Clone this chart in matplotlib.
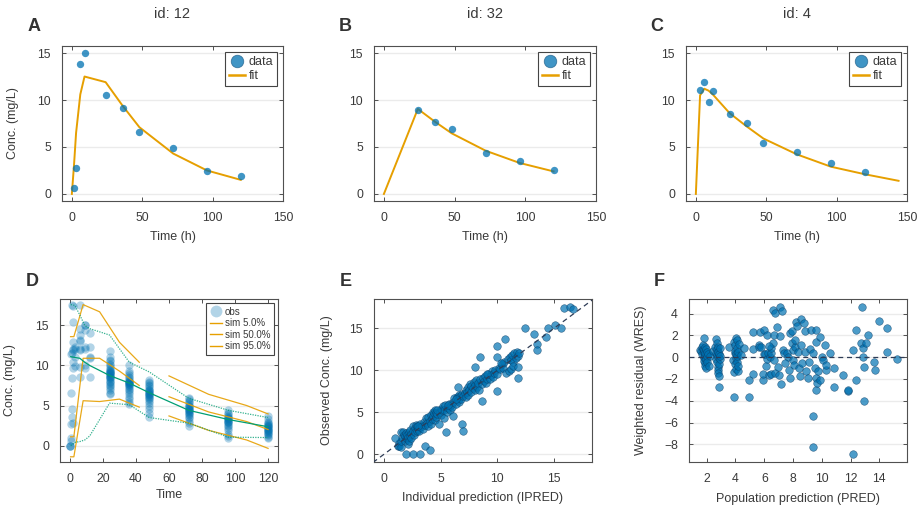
import numpy as np
import matplotlib.pyplot as plt
from matplotlib.lines import Line2D

plt.rcParams['font.family'] = ['Liberation Sans', 'DejaVu Sans']

BLUE = '#0072B2'
ORANGE = '#E69F00'
GREEN = '#009E73'
TXT = '#3a3a3a'
FRAME = '#505050'

# ---- A, B, C : individual fits
obs_t_12 = [1.5, 3, 6, 9, 24, 36, 48, 72, 96, 120]
obs_c_12 = [0.6, 2.8, 13.8, 15.0, 10.5, 9.1, 6.6, 4.9, 2.4, 1.9]
fit_t_12 = [0, 1.5, 3, 6, 9, 24, 36, 48, 72, 96, 120]
fit_c_12 = [0, 3.0, 6.5, 10.6, 12.5, 11.9, 9.4, 7.1, 4.3, 2.5, 1.5]

obs_t_32 = [24, 36, 48, 72, 96, 120]
obs_c_32 = [8.9, 7.7, 6.9, 4.4, 3.5, 2.5]
fit_t_32 = [0, 24, 36, 48, 72, 96, 120]
fit_c_32 = [0, 9.05, 7.7, 6.45, 4.6, 3.3, 2.4]

obs_t_4 = [3, 6, 9, 12, 24, 36, 48, 72, 96, 120]
obs_c_4 = [11.1, 11.9, 9.8, 11.0, 8.5, 7.6, 5.4, 4.5, 3.3, 2.3]
fit_t_4 = [0, 3, 6, 9, 12, 24, 36, 48, 72, 96, 120, 144]
fit_c_4 = [0, 10.5, 11.2, 11.0, 10.6, 8.6, 7.2, 5.9, 4.2, 2.9, 2.1, 1.4]

# ---- D : VPC
vpc_times = [0, 0.5, 1, 2, 3, 6, 9, 12, 24, 36, 48, 72, 96, 120]
vpc_obs = [
    [0.0, 0.0, 0.0],
    [0.6, 1.0, 2.7, 6.6, 11.4],
    [3.6, 4.6, 8.4, 11.6, 17.6],
    [2.8, 9.7, 10.4, 11.9, 12.0, 12.9, 15.4, 17.4],
    [9.9, 11.1, 12.1, 12.3],
    [8.6, 9.8, 11.9, 12.1, 13.0, 13.2, 13.8, 14.6, 17.6],
    [9.7, 10.0, 12.1, 12.3, 14.4, 15.0, 15.0],
    [8.6, 10.9, 11.1, 12.3, 14.1],
    [6.4, 6.6, 6.9, 7.2, 7.4, 7.6, 7.8, 8.0, 8.1, 8.3, 8.4, 8.5, 8.6, 8.7, 8.8,
     8.9, 9.0, 9.1, 9.2, 9.2, 9.3, 9.4, 9.6, 9.8, 10.0, 10.2, 10.5, 10.7, 11.0, 11.8],
    [5.2, 5.5, 5.8, 6.1, 6.4, 6.7, 6.9, 7.1, 7.3, 7.5, 7.6, 7.7, 7.7, 7.8, 7.9,
     7.9, 8.0, 8.1, 8.2, 8.4, 8.6, 8.8, 9.0, 9.3, 10.0],
    [3.6, 4.1, 4.6, 5.0, 5.3, 5.6, 5.8, 6.0, 6.1, 6.2, 6.3, 6.4, 6.5, 6.6, 6.7,
     6.8, 6.9, 7.0, 7.2, 7.4, 7.6, 7.8, 8.0, 8.2],
    [2.5, 2.8, 3.1, 3.4, 3.6, 3.8, 4.0, 4.1, 4.2, 4.3, 4.4, 4.5, 4.6, 4.7, 4.8,
     4.9, 5.0, 5.2, 5.4, 5.6, 5.8, 6.0],
    [0.9, 1.2, 1.5, 1.9, 2.2, 2.4, 2.6, 2.8, 2.9, 3.0, 3.1, 3.2, 3.3, 3.4, 3.5,
     3.6, 3.7, 3.9, 4.1, 4.4],
    [0.9, 1.1, 1.3, 1.4, 1.6, 1.7, 1.8, 1.9, 2.0, 2.1, 2.2, 2.3, 2.4, 2.5, 2.6,
     2.7, 2.8, 3.0, 3.3, 3.7],
]
sim_t1 = [0.4, 2.4, 8, 18, 30, 42]
sim5_1 = [-1.4, -1.4, 5.6, 5.5, 5.8, 4.8]
sim50_1 = [1.1, 1.1, 10.9, 10.9, 9.3, 7.5]
sim95_1 = [13.6, 13.6, 17.6, 16.7, 12.9, 10.4]
sim_t2 = [60, 84, 107, 120]
sim5_2 = [3.7, 1.9, 0.7, -0.35]
sim50_2 = [6.1, 4.2, 3.0, 2.0]
sim95_2 = [8.7, 6.4, 5.0, 3.95]
q_t = [0.5, 3, 6, 9, 12, 24, 36, 48, 72, 96, 120]
obs_q5 = [0.0, 0.4, 0.5, 0.7, 1.2, 5.3, 5.1, 3.5, 2.8, 1.05, 1.0]
obs_q50 = [11.1, 11.0, 10.9, 10.4, 10.0, 8.75, 7.8, 6.6, 4.4, 3.25, 2.35]
obs_q95 = [17.6, 17.5, 16.3, 15.0, 14.6, 13.8, 10.4, 9.2, 5.9, 4.4, 3.5]

# ---- E : observed vs IPRED
E_ipred = [
    1.2, 1.3, 1.33, 1.45, 1.5, 1.5, 1.6, 1.68, 1.7, 1.8, 1.8, 1.9, 1.97, 2.0, 2.0, 2.1, 2.1, 2.2, 2.2,
    2.3, 2.3, 2.4, 2.4, 2.5, 2.5, 2.6, 2.7, 2.7, 2.8, 2.9, 2.9, 3.0, 3.1, 3.2, 3.2, 3.3, 3.4,
    3.5, 3.6, 3.7, 3.8, 3.9, 3.9, 4.0, 4.1, 4.1, 4.2, 4.3, 4.3, 4.4, 4.5, 4.5, 4.6, 4.6, 4.7,
    4.8, 4.9, 5.0, 5.0, 5.1, 5.2, 5.3, 5.3, 5.4, 5.5, 5.6, 5.7, 5.8, 5.9, 6.0, 6.1, 6.2, 6.3,
    6.4, 6.5, 6.6, 6.6, 6.7, 6.8, 6.9, 7.0, 7.1, 7.2, 7.2, 7.3, 7.4, 7.4, 7.5, 7.6, 7.7, 7.7,
    7.8, 7.9, 8.0, 8.0, 8.1, 8.2, 8.3, 8.4, 8.5, 8.6, 8.7, 8.8, 8.9, 9.0, 9.1, 9.2, 9.3, 9.4,
    9.5, 9.6, 9.7, 9.8, 10.0, 10.1, 10.2, 10.4, 10.5, 10.6, 10.8, 10.9, 11.0, 11.1, 11.2, 11.2,
    11.3, 11.4, 11.4, 11.5, 11.6, 11.7, 11.8, 11.9, 10.3, 9.1, 6.3, 5.6, 4.7, 3.0,
    0.95, 1.92, 2.5, 3.15, 3.56, 4.04, 5.45, 6.84, 6.99, 6.1, 8.6, 8.46, 7.98, 10.0, 9.94,
    10.67, 10.0, 11.8, 11.85, 12.47, 13.26, 13.47, 13.47, 14.3, 14.5, 15.1, 15.6, 15.9,
    16.4, 16.65, 6.55,
]
E_obs = [
    1.0, 1.3, 1.0, 0.8, 1.6, 2.6, 1.9, 2.6, 2.3, 1.5, 2.1, 2.5, 1.86, 1.8, 2.3, 1.2, 2.0, 2.6, 1.6,
    2.2, 2.9, 2.4, 1.9, 3.4, 2.7, 2.3, 3.1, 2.6, 3.5, 2.8, 3.3, 3.0, 2.7, 3.6, 3.2, 3.4, 3.0,
    3.8, 3.5, 4.3, 3.7, 4.4, 3.4, 4.0, 4.7, 3.6, 4.2, 5.0, 4.5, 4.9, 4.1, 5.3, 4.4, 4.9, 4.8,
    3.6, 5.0, 5.4, 4.6, 5.2, 5.7, 4.3, 5.3, 5.8, 5.0, 5.5, 6.0, 5.3, 5.9, 5.6, 6.2, 6.7, 6.0,
    6.8, 6.5, 7.0, 6.2, 6.9, 6.6, 7.2, 6.9, 7.3, 7.7, 6.8, 7.4, 8.0, 7.1, 7.6, 8.3, 7.4, 8.1,
    7.9, 8.6, 7.6, 8.2, 8.8, 8.0, 8.5, 7.6, 8.9, 8.3, 9.1, 8.7, 9.3, 8.5, 9.0, 9.6, 8.9, 9.4,
    9.9, 9.2, 9.7, 10.0, 9.6, 10.3, 10.1, 10.8, 10.3, 11.0, 9.7, 11.3, 9.9, 11.6, 11.2, 10.2,
    11.8, 11.0, 10.5, 12.0, 11.5, 12.2, 11.7, 12.1, 10.9, 9.5, 6.6, 5.9, 5.2, 3.4,
    1.95, 0.0, 0.0, 0.0, 0.95, 0.5, 2.66, 3.54, 2.75, 4.58, 6.3, 11.6, 10.35, 7.52, 12.9,
    13.73, 11.54, 9.1, 10.43, 15.0, 14.33, 13.13, 12.4, 13.93, 15.0, 15.4, 15.0, 17.47,
    17.6, 17.27, 8.0,
]

# ---- F : WRES vs PRED
F_pred = [
    1.50, 1.62, 1.65, 1.70, 1.72, 1.75, 1.78, 1.80, 1.80, 1.82, 1.83, 1.84, 1.85, 1.86, 1.88,
    1.88, 1.90, 1.92, 1.95, 1.96, 2.00, 2.02, 2.05, 2.10, 2.15, 2.20,
    2.45, 2.55, 2.62, 2.65, 2.68, 2.70, 2.72, 2.74, 2.75, 2.76, 2.78, 2.78, 2.80, 2.80, 2.82,
    2.83, 2.85, 2.86, 2.88, 2.90, 2.92, 2.95,
    3.55, 3.85, 3.88, 3.90, 3.92, 3.95, 3.97, 3.98, 4.00, 4.02, 4.04, 4.05, 4.07, 4.08, 4.10,
    4.12, 4.14, 4.15, 4.18, 4.20, 4.25, 4.35, 4.62,
    4.92, 4.92, 5.24, 5.20, 5.20, 5.60, 5.60, 5.68, 5.96, 5.90, 5.90, 6.00, 6.08, 6.13, 6.17,
    6.24, 6.17, 6.30, 6.47, 6.40, 6.50, 6.50, 6.58, 6.75, 6.66, 6.60, 6.66, 6.77, 6.96, 6.92,
    7.10, 7.10, 7.20, 7.05, 7.15, 7.28, 7.37, 7.56, 7.67, 7.80, 7.80, 7.74, 7.90, 7.98, 8.00,
    8.06, 7.92, 8.13, 8.19, 8.25, 8.37, 8.44, 8.53, 8.55, 8.47, 8.60, 8.76, 8.80, 8.83, 8.90,
    9.07, 9.10, 9.18, 9.25, 9.37, 9.37, 9.37, 9.53, 9.60, 9.60, 9.58, 9.60, 9.65, 9.72, 9.84,
    9.90, 10.00, 10.06, 10.22, 10.27, 10.30, 10.56, 10.84, 10.84, 11.50, 11.80, 11.80, 12.20,
    12.20, 12.40, 12.40, 12.70, 12.77, 12.88, 12.88, 12.90, 12.90, 13.10, 13.23, 13.65, 13.70,
    13.95, 14.50, 14.50, 15.25, 6.35, 7.45, 8.15, 5.75,
]
F_wres = [
    0.70, 0.55, 0.95, 0.30, 0.80, 1.15, -0.10, 1.80, 0.45, 0.05, -0.35, 0.65, -0.55, 0.20, 0.95,
    -0.80, 0.35, -0.20, 0.75, -0.95, 0.15, 0.50, -0.40, 0.30, -0.85, 0.10,
    0.60, 0.90, 0.40, 1.65, -0.15, 1.30, 0.75, 0.20, -0.40, 0.95, -0.90, 0.05, -1.15, 0.50, -1.45,
    -1.75, 0.30, -0.60, -2.75, 0.85, -0.20, 0.10,
    0.92, -0.25, -1.35, -3.65, 1.40, 0.35, 1.10, -0.65, 0.60, -0.05, 1.75, 0.25, -1.05, 1.55, 0.85,
    -0.40, 0.10, -1.30, 0.45, -0.85, 1.25, 0.20, 0.82,
    -2.08, -3.67, 2.35, -1.53, 0.73, 1.13, 0.92, 2.35, 2.50, -2.14, -1.53, 0.27, 0.27, -0.80, -0.18,
    0.43, 2.05, -1.62, -1.53, 0.06, 0.37, 0.82, 4.34, 4.09, 2.05, 1.28, -0.24, -1.47, -0.86, 2.75,
    1.95, 4.64, 4.28, -1.62, -2.44, 0.67, 0.43, 0.37, 0.06, 2.20, -1.92, -1.16, 1.28, 0.67, -0.24,
    -0.70, 2.44, 0.92, 3.27, 2.90, 0.52, -1.00, 3.48, 1.13, -1.77, -0.55, 3.18, 2.44, 0.52, -1.31,
    -1.92, -0.40, 0.76, 2.50, 0.43, -5.44, -8.28, -1.00, 2.50, 1.43, -1.92, -3.00, -2.38, -1.31, -2.08,
    1.83, 0.06, -0.24, 1.13, -1.16, -0.70, 0.37, -1.00, -2.75, -1.62, -3.14, -3.00, 0.67,
    -8.89, 2.50, -2.08, 1.28, 4.64, 0.82, 0.00, -0.86, -4.06, 1.28, 2.05, -0.40, -1.22,
    3.36, 2.66, 0.46, -0.18, 1.05, -0.55, 1.60, 0.95,
]


def style(ax, xlim, ylim, xticks, yticks):
    ax.set_xlim(*xlim)
    ax.set_ylim(*ylim)
    ax.set_xticks(xticks)
    ax.set_yticks(yticks)
    for sp in ax.spines.values():
        sp.set_color(FRAME)
        sp.set_linewidth(0.8)
    ax.grid(axis='y', color='#ebebeb', linewidth=1.0)
    ax.set_axisbelow(True)
    ax.tick_params(direction='in', length=3, width=0.7, top=True, right=True,
                   colors=FRAME, labelcolor=TXT, labelsize=8.8, pad=8)


def legend_box(ax, handles, labels, fs):
    leg = ax.legend(handles, labels, loc='upper right', fontsize=fs, frameon=True,
                    fancybox=False, framealpha=1, borderaxespad=0.45,
                    handlelength=1.3, handletextpad=0.25, labelspacing=0.15,
                    borderpad=0.35)
    leg.get_frame().set_edgecolor('#444444')
    leg.get_frame().set_linewidth(0.8)
    for t in leg.get_texts():
        t.set_color(TXT)
    return leg


W, H = 920, 513
fig = plt.figure(figsize=(9.2, 5.13), dpi=100)


def add_ax(left, top, right, bottom):
    return fig.add_axes([left / W, 1 - bottom / H, (right - left) / W, (bottom - top) / H])


axA = add_ax(62, 46, 283, 201)
axB = add_ax(374, 46, 596, 201)
axC = add_ax(686, 46, 907, 201)
axD = add_ax(60, 299, 278, 462)
axE = add_ax(374, 299, 592, 462)
axF = add_ax(689, 299, 907, 462)

top_sets = [(axA, obs_t_12, obs_c_12, fit_t_12, fit_c_12, 'id: 12'),
            (axB, obs_t_32, obs_c_32, fit_t_32, fit_c_32, 'id: 32'),
            (axC, obs_t_4, obs_c_4, fit_t_4, fit_c_4, 'id: 4')]
for ax, ot, oc, ft, fc, title in top_sets:
    style(ax, (-7, 150), (-0.75, 15.75), [0, 50, 100, 150], [0, 5, 10, 15])
    ax.scatter(ot, oc, s=28, color=BLUE, alpha=0.75, linewidths=0, zorder=3)
    ax.plot(ft, fc, color=ORANGE, linewidth=1.4, zorder=2)
    ax.set_xlabel('Time (h)', fontsize=9, color=TXT)
    ax.xaxis.set_label_coords(0.5, -0.232)
    ax.xaxis.label.set_verticalalignment('center')
    pos = ax.get_position()
    fig.text(pos.x0 + pos.width / 2, 1 - 14 / H, title, ha='center', va='center',
             fontsize=10.5, color=TXT)
    h = [Line2D([], [], ls='', marker='o', ms=9, mfc=BLUE, mec='#1f5f8a', mew=0.6, alpha=0.75),
         Line2D([], [], color=ORANGE, lw=1.8)]
    legend_box(ax, h, ['data', 'fit'], 9)

axA.set_ylabel('Conc. (mg/L)', fontsize=9, color=TXT)
axA.yaxis.set_label_coords(-0.195, 0.5)

# D
style(axD, (-6, 126), (-2.05, 18.3), [0, 20, 40, 60, 80, 100, 120], [0, 5, 10, 15])
for t, vals in zip(vpc_times, vpc_obs):
    axD.scatter([t] * len(vals), vals, s=36, color=BLUE, alpha=0.3, linewidths=0, zorder=2)
for tt, ys in [(sim_t1, sim5_1), (sim_t1, sim50_1), (sim_t1, sim95_1),
               (sim_t2, sim5_2), (sim_t2, sim50_2), (sim_t2, sim95_2)]:
    axD.plot(tt, ys, color=ORANGE, linewidth=0.9, alpha=0.9, zorder=3)
axD.plot(q_t, obs_q50, color=GREEN, linewidth=0.9, zorder=3)
axD.plot(q_t, obs_q5, color=GREEN, linewidth=0.9, linestyle=(0, (1, 1)), alpha=0.8, zorder=3)
axD.plot(q_t, obs_q95, color=GREEN, linewidth=0.9, linestyle=(0, (1, 1)), alpha=0.8, zorder=3)
axD.set_xlabel('Time', fontsize=9, color=TXT)
axD.xaxis.set_label_coords(0.5, -0.202)
axD.xaxis.label.set_verticalalignment('center')
axD.set_ylabel('Conc. (mg/L)', fontsize=9, color=TXT)
axD.yaxis.set_label_coords(-0.202, 0.5)
hD = [Line2D([], [], ls='', marker='o', ms=8.5, mfc=BLUE, mec='none', alpha=0.3),
      Line2D([], [], color=ORANGE, lw=1),
      Line2D([], [], color=ORANGE, lw=1),
      Line2D([], [], color=ORANGE, lw=1)]
legend_box(axD, hD, ['obs', 'sim 5.0%', 'sim 50.0%', 'sim 95.0%'], 7)

# E
style(axE, (-0.91, 18.36), (-0.95, 18.5), [0, 5, 10, 15], [0, 5, 10, 15])
axE.scatter(E_ipred, E_obs, s=30, color=BLUE, alpha=0.7, edgecolors='#0b3d66',
            linewidths=0.4, zorder=2)
axE.plot([-1, 19], [-1, 19], color='#2e3c56', linewidth=0.9, linestyle=(0, (4, 3)), zorder=3)
axE.set_xlabel('Individual prediction (IPRED)', fontsize=9, color=TXT)
axE.xaxis.set_label_coords(0.5, -0.22)
axE.xaxis.label.set_verticalalignment('center')
axE.set_ylabel('Observed Conc. (mg/L)', fontsize=9, color=TXT)
axE.yaxis.set_label_coords(-0.188, 0.5)

# F
style(axF, (0.77, 15.92), (-9.63, 5.35), [2, 4, 6, 8, 10, 12, 14], [-8, -6, -4, -2, 0, 2, 4])
axF.scatter(F_pred, F_wres, s=30, color=BLUE, alpha=0.7, edgecolors='#0b3d66',
            linewidths=0.4, zorder=2)
axF.axhline(0, color='#2e3c56', linewidth=0.9, linestyle=(0, (4, 3)), zorder=3)
axF.set_xlabel('Population prediction (PRED)', fontsize=9, color=TXT)
axF.xaxis.set_label_coords(0.5, -0.227)
axF.xaxis.label.set_verticalalignment('center')
axF.set_ylabel('Weighted residual (WRES)', fontsize=9, color=TXT)
axF.yaxis.set_label_coords(-0.193, 0.5)

# panel letters
for letter, x, y in [('A', 34, 27), ('B', 345, 27), ('C', 657, 27),
                     ('D', 32, 282), ('E', 346, 282), ('F', 659, 282)]:
    fig.text(x / W, 1 - y / H, letter, ha='center', va='center', fontsize=13,
             fontweight='bold', color='#333333')

fig.savefig('out.png', dpi=100)
